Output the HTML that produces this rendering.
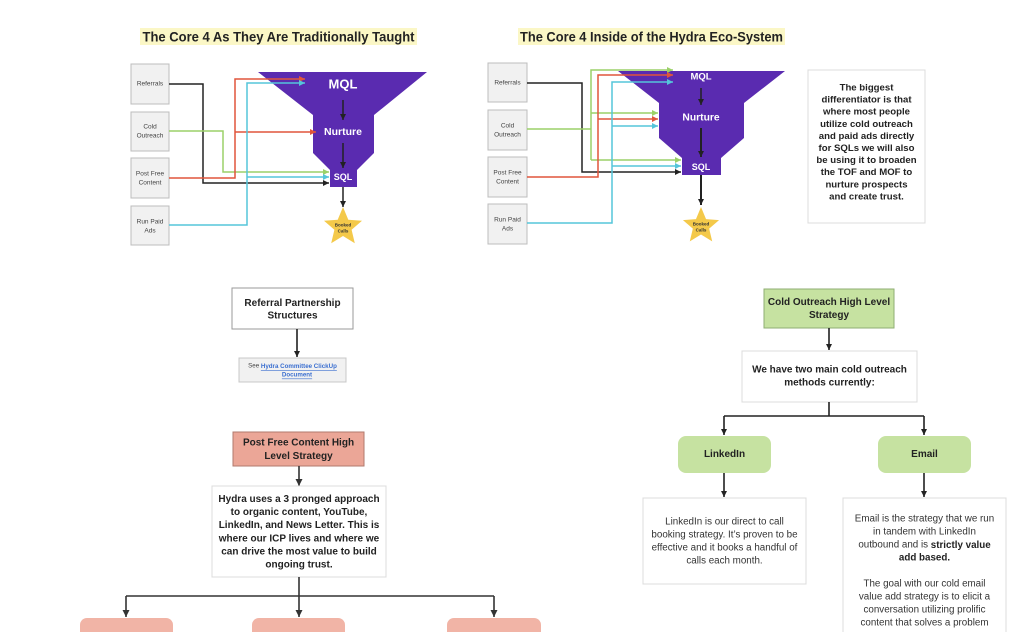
<!DOCTYPE html>
<html><head><meta charset="utf-8"><style>
html,body{margin:0;padding:0;background:#fff;}
svg{display:block;}
text{font-family:"Liberation Sans",Arial,sans-serif;}
</style></head><body>
<svg width="1034" height="632" viewBox="0 0 1034 632" xmlns="http://www.w3.org/2000/svg">
<defs>
<marker id="ak" viewBox="0 0 10 10" refX="10" refY="5" markerWidth="6" markerHeight="6" markerUnits="userSpaceOnUse" orient="auto"><path d="M0,0 L10,5 L0,10z" fill="#222"/></marker>
<marker id="ar" viewBox="0 0 10 10" refX="10" refY="5" markerWidth="6" markerHeight="6" markerUnits="userSpaceOnUse" orient="auto"><path d="M0,0 L10,5 L0,10z" fill="#e0553c"/></marker>
<marker id="ag" viewBox="0 0 10 10" refX="10" refY="5" markerWidth="6" markerHeight="6" markerUnits="userSpaceOnUse" orient="auto"><path d="M0,0 L10,5 L0,10z" fill="#9bd168"/></marker>
<marker id="ac" viewBox="0 0 10 10" refX="10" refY="5" markerWidth="6" markerHeight="6" markerUnits="userSpaceOnUse" orient="auto"><path d="M0,0 L10,5 L0,10z" fill="#55c5da"/></marker>
<marker id="ab" viewBox="0 0 10 10" refX="10" refY="5" markerWidth="7" markerHeight="7" markerUnits="userSpaceOnUse" orient="auto"><path d="M0,0 L10,5 L0,10z" fill="#333"/></marker>
<path id="star" d="M0,-20 L5.3,-7.3 L19,-6.2 L8.6,2.8 L11.8,16.2 L0,9 L-11.8,16.2 L-8.6,2.8 L-19,-6.2 L-5.3,-7.3Z"/>
</defs>

<!-- Titles -->
<rect x="140" y="28" width="277" height="17" fill="#fbf7c6"/>
<text x="278.5" y="37" font-size="13.5" font-weight="bold" fill="#222" text-anchor="middle" dominant-baseline="central" textLength="272" lengthAdjust="spacingAndGlyphs">The Core 4 As They Are Traditionally Taught</text>
<rect x="518" y="28" width="267" height="17" fill="#fbf7c6"/>
<text x="651.5" y="37" font-size="13.5" font-weight="bold" fill="#222" text-anchor="middle" dominant-baseline="central" textLength="263" lengthAdjust="spacingAndGlyphs">The Core 4 Inside of the Hydra Eco-System</text>

<!-- LEFT DIAGRAM -->
<g fill="#f1f1f1" stroke="#bdbdbd" stroke-width="1">
<rect x="131" y="64" width="38" height="40"/>
<rect x="131" y="112" width="38" height="39"/>
<rect x="131" y="158" width="38" height="40"/>
<rect x="131" y="206" width="38" height="39"/>
</g>
<g font-size="6.5" fill="#444" text-anchor="middle" dominant-baseline="central">
<text x="150" y="84">Referrals</text>
<text x="150" y="127">Cold</text><text x="150" y="136">Outreach</text>
<text x="150" y="174">Post Free</text><text x="150" y="183">Content</text>
<text x="150" y="222">Run Paid</text><text x="150" y="231">Ads</text>
</g>
<polygon points="258,72 427,72 374,115 374,153 357,170 357,187 330,187 330,170 313,153 313,115" fill="#5a2bb0"/>
<g font-weight="bold" fill="#fff" text-anchor="middle" dominant-baseline="central">
<text x="343" y="84" font-size="13">MQL</text>
<text x="343" y="132" font-size="10.5">Nurture</text>
<text x="343" y="177" font-size="9">SQL</text>
</g>
<g stroke="#222" stroke-width="1.5" fill="none" marker-end="url(#ak)">
<path d="M343,100 V120"/><path d="M343,143 V168"/><path d="M343,187 V207"/>
</g>
<use href="#star" transform="translate(343,227)" fill="#f4c94a"/>
<g font-size="4.5" font-weight="bold" fill="#333" text-anchor="middle" dominant-baseline="central">
<text x="343" y="225">Booked</text><text x="343" y="231">Calls</text>
</g>
<g fill="none" stroke-width="1.5">
<path d="M169,84 H203 V183 H329" stroke="#222" marker-end="url(#ak)"/>
<path d="M169,131 H223 V172 H329" stroke="#9bd168" marker-end="url(#ag)"/>
<path d="M169,178 H235 V79 H305" stroke="#e0553c" marker-end="url(#ar)"/>
<path d="M235,132 H316" stroke="#e0553c" marker-end="url(#ar)"/>
<path d="M169,225 H247 V83 H305" stroke="#55c5da" marker-end="url(#ac)"/>
<path d="M247,177 H329" stroke="#55c5da" marker-end="url(#ac)"/>
</g>

<!-- RIGHT DIAGRAM -->
<g fill="#f1f1f1" stroke="#bdbdbd" stroke-width="1">
<rect x="488" y="63" width="39" height="39"/>
<rect x="488" y="110" width="39" height="40"/>
<rect x="488" y="157" width="39" height="40"/>
<rect x="488" y="204" width="39" height="40"/>
</g>
<g font-size="6.5" fill="#444" text-anchor="middle" dominant-baseline="central">
<text x="507.5" y="83">Referrals</text>
<text x="507.5" y="126">Cold</text><text x="507.5" y="135">Outreach</text>
<text x="507.5" y="173">Post Free</text><text x="507.5" y="182">Content</text>
<text x="507.5" y="220">Run Paid</text><text x="507.5" y="229">Ads</text>
</g>
<polygon points="618,71 785,71 744,103 744,138 721,158 721,175 682,175 682,158 659,138 659,103" fill="#5a2bb0"/>
<g font-weight="bold" fill="#fff" text-anchor="middle" dominant-baseline="central">
<text x="701" y="77" font-size="9.5">MQL</text>
<text x="701" y="118" font-size="10.3">Nurture</text>
<text x="701" y="167" font-size="9">SQL</text>
</g>
<g stroke="#222" fill="none">
<path d="M701,88 V105" stroke-width="1.5" marker-end="url(#ak)"/>
<path d="M701,128 V157" stroke-width="2" marker-end="url(#ak)"/>
<path d="M701,175 V205" stroke-width="2" marker-end="url(#ak)"/>
</g>
<use href="#star" transform="translate(701,226) scale(0.95)" fill="#f4c94a"/>
<g font-size="4.5" font-weight="bold" fill="#333" text-anchor="middle" dominant-baseline="central">
<text x="701" y="224">Booked</text><text x="701" y="230">Calls</text>
</g>
<g fill="none" stroke-width="1.5">
<path d="M527,83 H582 V172 H681" stroke="#222" marker-end="url(#ak)"/>
<path d="M527,129 H591" stroke="#9bd168"/>
<path d="M591,160 V70 H673" stroke="#9bd168" marker-end="url(#ag)"/>
<path d="M591,113 H658" stroke="#9bd168" marker-end="url(#ag)"/>
<path d="M591,160 H681" stroke="#9bd168" marker-end="url(#ag)"/>
<path d="M527,177 H598 V75 H673" stroke="#e0553c" marker-end="url(#ar)"/>
<path d="M598,119 H658" stroke="#e0553c" marker-end="url(#ar)"/>
<path d="M527,223 H612 V82 H673" stroke="#55c5da" marker-end="url(#ac)"/>
<path d="M612,126 H658" stroke="#55c5da" marker-end="url(#ac)"/>
<path d="M612,166 H681" stroke="#55c5da" marker-end="url(#ac)"/>
</g>

<!-- Differentiator box -->
<rect x="808" y="70" width="117" height="153" fill="#fff" stroke="#dcdcdc"/>
<g font-size="9.6" font-weight="bold" fill="#222" text-anchor="middle" dominant-baseline="central">
<text x="866.5" y="88">The biggest</text>
<text x="866.5" y="100">differentiator is that</text>
<text x="866.5" y="112.2">where most people</text>
<text x="866.5" y="124.3">utilize cold outreach</text>
<text x="866.5" y="136.4">and paid ads directly</text>
<text x="866.5" y="148.5">for SQLs we will also</text>
<text x="866.5" y="160.6">be using it to broaden</text>
<text x="866.5" y="172.7">the TOF and MOF to</text>
<text x="866.5" y="184.8">nurture prospects</text>
<text x="866.5" y="197">and create trust.</text>
</g>

<!-- Referral section -->
<rect x="232" y="288" width="121" height="41" fill="#fff" stroke="#9a9a9a"/>
<g font-size="10" font-weight="bold" fill="#222" text-anchor="middle" dominant-baseline="central">
<text x="292.5" y="303.5">Referral Partnership</text>
<text x="292.5" y="316">Structures</text>
</g>
<path d="M297,329 V357" stroke="#222" stroke-width="1.6" fill="none" marker-end="url(#ak)"/>
<rect x="239" y="358" width="107" height="24" fill="#f1f1f1" stroke="#c8c8c8"/>
<g font-size="6.2" text-anchor="middle" dominant-baseline="central">
<text x="292.5" y="366" fill="#444">See <tspan fill="#3b6fd0" text-decoration="underline" font-weight="bold">Hydra Committee ClickUp</tspan></text>
<text x="297" y="375" fill="#3b6fd0" text-decoration="underline" font-weight="bold">Document</text>
</g>

<!-- Post Free Content section -->
<rect x="233" y="432" width="131" height="34" fill="#eba697" stroke="#b07a6d"/>
<g font-size="10" font-weight="bold" fill="#222" text-anchor="middle" dominant-baseline="central">
<text x="298.5" y="443">Post Free Content High</text>
<text x="298.5" y="456.5">Level Strategy</text>
</g>
<path d="M299,466 V486" stroke="#333" stroke-width="1.6" fill="none" marker-end="url(#ab)"/>
<rect x="212" y="486" width="174" height="91" fill="#fff" stroke="#dcdcdc"/>
<g font-size="10" font-weight="bold" fill="#222" text-anchor="middle" dominant-baseline="central">
<text x="299" y="499.5">Hydra uses a 3 pronged approach</text>
<text x="299" y="512.6">to organic content, YouTube,</text>
<text x="299" y="525.7">LinkedIn, and News Letter. This is</text>
<text x="299" y="538.8">where our ICP lives and where we</text>
<text x="299" y="551.9">can drive the most value to build</text>
<text x="299" y="565">ongoing trust.</text>
</g>
<g stroke="#333" stroke-width="1.6" fill="none">
<path d="M299,577 V596"/>
<path d="M126,596 H494"/>
<path d="M126,596 V617" marker-end="url(#ab)"/>
<path d="M299,596 V617" marker-end="url(#ab)"/>
<path d="M494,596 V617" marker-end="url(#ab)"/>
</g>
<g fill="#f1b4a6">
<rect x="80" y="618" width="93" height="30" rx="7"/>
<rect x="252" y="618" width="93" height="30" rx="7"/>
<rect x="447" y="618" width="94" height="30" rx="7"/>
</g>

<!-- Cold Outreach section -->
<rect x="764" y="289" width="130" height="39" fill="#c6e2a1" stroke="#8fae73"/>
<g font-size="10" font-weight="bold" fill="#222" text-anchor="middle" dominant-baseline="central">
<text x="829" y="302.5">Cold Outreach High Level</text>
<text x="829" y="315.5">Strategy</text>
</g>
<path d="M829,328 V350" stroke="#222" stroke-width="1.6" fill="none" marker-end="url(#ak)"/>
<rect x="742" y="351" width="175" height="51" fill="#fff" stroke="#dcdcdc"/>
<g font-size="10" font-weight="bold" fill="#222" text-anchor="middle" dominant-baseline="central">
<text x="829.5" y="370">We have two main cold outreach</text>
<text x="829.5" y="383">methods currently:</text>
</g>
<g stroke="#222" stroke-width="1.6" fill="none">
<path d="M829,402 V416"/>
<path d="M724,416 H924"/>
<path d="M724,416 V435" marker-end="url(#ak)"/>
<path d="M924,416 V435" marker-end="url(#ak)"/>
</g>
<rect x="678" y="436" width="93" height="37" rx="8" fill="#c6e2a1"/>
<rect x="878" y="436" width="93" height="37" rx="8" fill="#c6e2a1"/>
<g font-size="10" font-weight="bold" fill="#222" text-anchor="middle" dominant-baseline="central">
<text x="724.5" y="454.5">LinkedIn</text>
<text x="924.5" y="454.5">Email</text>
</g>
<g stroke="#222" stroke-width="1.6" fill="none">
<path d="M724,473 V497" marker-end="url(#ak)"/>
<path d="M924,473 V497" marker-end="url(#ak)"/>
</g>
<rect x="643" y="498" width="163" height="86" fill="#fff" stroke="#dcdcdc"/>
<g font-size="9.8" fill="#333" text-anchor="middle" dominant-baseline="central">
<text x="724.5" y="522">LinkedIn is our direct to call</text>
<text x="724.5" y="535">booking strategy. It’s proven to be</text>
<text x="724.5" y="548">effective and it books a handful of</text>
<text x="724.5" y="561">calls each month.</text>
</g>
<rect x="843" y="498" width="163" height="150" fill="#fff" stroke="#dcdcdc"/>
<g font-size="9.8" fill="#333" text-anchor="middle" dominant-baseline="central">
<text x="924.5" y="519">Email is the strategy that we run</text>
<text x="924.5" y="532">in tandem with LinkedIn</text>
<text x="924.5" y="545">outbound and is <tspan font-weight="bold" fill="#222">strictly value</tspan></text>
<text x="924.5" y="558" font-weight="bold" fill="#222">add based.</text>
<text x="924.5" y="584">The goal with our cold email</text>
<text x="924.5" y="597">value add strategy is to elicit a</text>
<text x="924.5" y="610">conversation utilizing prolific</text>
<text x="924.5" y="623">content that solves a problem</text>
</g>
</svg>
</body></html>
